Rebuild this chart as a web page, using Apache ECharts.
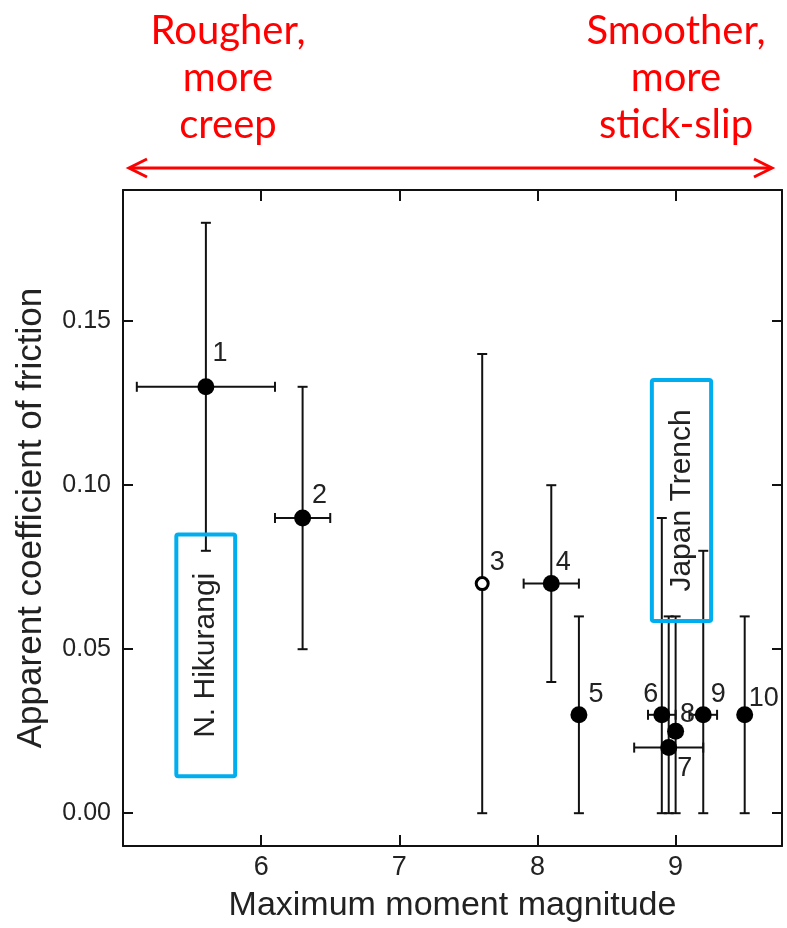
<!DOCTYPE html>
<html>
<head>
<meta charset="utf-8">
<script src="https://cdn.jsdelivr.net/npm/echarts@6/dist/echarts.min.js"></script>
<style>
  html, body { margin: 0; padding: 0; background: #fff; }
  #chart { width: 787px; height: 928px; }
</style>
</head>
<body>
<div id="chart"></div>
<script type="text/javascript">
// point number, magnitude, friction and their error ranges (null = no bar)
var ids   = ['1', '2', '3', '4', '5', '6', '7', '8', '9', '10'];
var mag   = [5.6, 6.3, 7.6, 8.1, 8.3, 8.9, 8.95, 9.0, 9.2, 9.5];
var mu    = [0.13, 0.09, 0.07, 0.07, 0.03, 0.03, 0.02, 0.025, 0.03, 0.03];
var magLo = [5.1, 6.1, null, 7.9, null, 8.8, 8.7, null, 9.1, null];
var magHi = [6.1, 6.5, null, 8.3, null, 9.0, 9.2, null, 9.3, null];
var muLo  = [0.08, 0.05, 0.0, 0.04, 0.0, 0.0, 0.0, 0.0, 0.0, 0.0];
var muHi  = [0.18, 0.13, 0.14, 0.10, 0.06, 0.09, 0.06, 0.06, 0.08, 0.06];
var openPoint = [false, false, true, false, false, false, false, false, false, false];

var xTicks = [6, 7, 8, 9];
var yTicks = [0, 0.05, 0.10, 0.15];

// region boxes: name, magnitude from/to, friction from/to
var boxNames = ['N. Hikurangi', 'Japan Trench'];
var boxMag0  = [5.386, 8.828];
var boxMag1  = [5.812, 9.257];
var boxMu0   = [0.0113, 0.0586];
var boxMu1   = [0.085, 0.1321];

// where each number label sits relative to its dot
var labelOffset = [[14, -33], [17, -22], [15, -21], [12, -21], [17, -20],
                   [-11, -20], [16, 21], [12, -17], [15, -20], [19, -16]];

var FONT = '"Liberation Sans", Arial, sans-serif';

var chart = echarts.init(document.getElementById('chart'), null, { renderer: 'canvas' });

var errData = [];
var fillData = [];
var openData = [];
for (var i = 0; i < mag.length; i++) {
  errData.push([mag[i], mu[i], magLo[i], magHi[i], muLo[i], muHi[i]]);
  var item = {
    value: [mag[i], mu[i]],
    name: ids[i],
    label: { offset: labelOffset[i] }
  };
  if (openPoint[i]) openData.push(item); else fillData.push(item);
}
var boxData = [];
for (var b = 0; b < boxNames.length; b++) {
  boxData.push({ value: [boxMag0[b], boxMu0[b], boxMag1[b], boxMu1[b]], name: boxNames[b] });
}

var CAP = 5;
function renderErr(params, api) {
  var x = api.value(0), y = api.value(1);
  var xlo = api.value(2), xhi = api.value(3);
  var ylo = api.value(4), yhi = api.value(5);
  var kids = [];
  var st = { stroke: '#111', lineWidth: 2 };
  var pTop = api.coord([x, yhi]);
  var pBot = api.coord([x, ylo]);
  kids.push({ type: 'line', shape: { x1: pTop[0], y1: pTop[1], x2: pBot[0], y2: pBot[1] }, style: st });
  kids.push({ type: 'line', shape: { x1: pTop[0] - CAP, y1: pTop[1], x2: pTop[0] + CAP, y2: pTop[1] }, style: st });
  kids.push({ type: 'line', shape: { x1: pBot[0] - CAP, y1: pBot[1], x2: pBot[0] + CAP, y2: pBot[1] }, style: st });
  if (!isNaN(xlo) && xlo != null && !isNaN(xhi) && xhi != null) {
    var pL = api.coord([xlo, y]);
    var pR = api.coord([xhi, y]);
    kids.push({ type: 'line', shape: { x1: pL[0], y1: pL[1], x2: pR[0], y2: pR[1] }, style: st });
    kids.push({ type: 'line', shape: { x1: pL[0], y1: pL[1] - CAP, x2: pL[0], y2: pL[1] + CAP }, style: st });
    kids.push({ type: 'line', shape: { x1: pR[0], y1: pR[1] - CAP, x2: pR[0], y2: pR[1] + CAP }, style: st });
  }
  return { type: 'group', children: kids };
}

function renderBox(params, api) {
  var p0 = api.coord([api.value(0), api.value(3)]);
  var p1 = api.coord([api.value(2), api.value(1)]);
  var name = boxData[params.dataIndex].name;
  return {
    type: 'group',
    children: [
      { type: 'rect', shape: { x: p0[0], y: p0[1], width: p1[0] - p0[0], height: p1[1] - p0[1], r: 2 },
        style: { fill: null, stroke: '#00AEEF', lineWidth: 4 } },
      { type: 'text', x: (p0[0] + p1[0]) / 2, y: (p0[1] + p1[1]) / 2, rotation: Math.PI / 2,
        style: { text: name, fill: '#222', font: '30px ' + FONT, align: 'center', verticalAlign: 'middle' } }
    ]
  };
}

var axisLineSt = { show: true, onZero: false, lineStyle: { color: '#111', width: 2 } };
var tickLine = { color: '#111', width: 2 };

var option = {
  backgroundColor: '#fff',
  animation: false,
  grid: { left: 123, right: 5, top: 190, bottom: 80 },
  xAxis: [
    {
      type: 'value', min: 5, max: 9.77, position: 'bottom',
      axisLine: axisLineSt,
      axisTick: { show: true, inside: true, length: 11, customValues: xTicks, lineStyle: tickLine },
      axisLabel: { customValues: xTicks, fontSize: 27, color: '#222', fontFamily: FONT, margin: 8 },
      splitLine: { show: false },
      name: 'Maximum moment magnitude', nameLocation: 'middle', nameGap: 43,
      nameTextStyle: { fontSize: 34, color: '#222', fontFamily: FONT }
    },
    {
      type: 'value', min: 5, max: 9.77, position: 'top',
      axisLine: axisLineSt,
      axisTick: { show: true, inside: true, length: 11, customValues: xTicks, lineStyle: tickLine },
      axisLabel: { show: false },
      splitLine: { show: false }
    }
  ],
  yAxis: [
    {
      type: 'value', min: -0.01, max: 0.19, position: 'left',
      axisLine: axisLineSt,
      axisTick: { show: true, inside: true, length: 10, customValues: yTicks, lineStyle: tickLine },
      axisLabel: {
        customValues: yTicks, fontSize: 25, color: '#222', fontFamily: FONT, margin: 12,
        formatter: function (v) { return v.toFixed(2); }
      },
      splitLine: { show: false },
      name: 'Apparent coefficient of friction', nameLocation: 'middle', nameGap: 74,
      nameTextStyle: { fontSize: 35, color: '#222', fontFamily: FONT }
    },
    {
      type: 'value', min: -0.01, max: 0.19, position: 'right',
      axisLine: axisLineSt,
      axisTick: { show: true, inside: true, length: 10, customValues: yTicks, lineStyle: tickLine },
      axisLabel: { show: false },
      splitLine: { show: false }
    }
  ],
  series: [
    {
      type: 'custom', renderItem: renderErr, data: errData, z: 2,
      encode: { x: 0, y: 1 }, silent: true
    },
    {
      type: 'custom', renderItem: renderBox, data: boxData, z: 3,
      encode: { x: [0, 2], y: [1, 3] }, silent: true
    },
    {
      type: 'scatter', data: fillData, z: 4, symbol: 'circle', symbolSize: 17,
      itemStyle: { color: '#000', opacity: 1 },
      label: { show: true, formatter: '{b}', position: 'inside', fontSize: 27, color: '#222', fontFamily: FONT }
    },
    {
      type: 'scatter', data: openData, z: 4, symbol: 'circle', symbolSize: 12,
      itemStyle: { color: '#fff', borderColor: '#000', borderWidth: 3, opacity: 1 },
      label: { show: true, formatter: '{b}', position: 'inside', fontSize: 27, color: '#222', fontFamily: FONT }
    }
  ],
  graphic: [
    { type: 'line', shape: { x1: 130, y1: 168, x2: 771, y2: 168 }, style: { stroke: '#f00', lineWidth: 3 } },
    { type: 'polyline', shape: { points: [[147, 159], [129, 168], [147, 177]] }, style: { stroke: '#f00', lineWidth: 3, fill: null } },
    { type: 'polyline', shape: { points: [[754, 159], [772, 168], [754, 177]] }, style: { stroke: '#f00', lineWidth: 3, fill: null } },
    { type: 'text', x: 228, y: 78,
      style: { text: 'Rougher,\nmore\ncreep', fill: '#f00', font: '40px Lato, sans-serif', align: 'center', verticalAlign: 'middle', lineHeight: 47 } },
    { type: 'text', x: 676, y: 78,
      style: { text: 'Smoother,\nmore\nstick-slip', fill: '#f00', font: '40px Lato, sans-serif', align: 'center', verticalAlign: 'middle', lineHeight: 47 } }
  ]
};

chart.setOption(option);
</script>
</body>
</html>
